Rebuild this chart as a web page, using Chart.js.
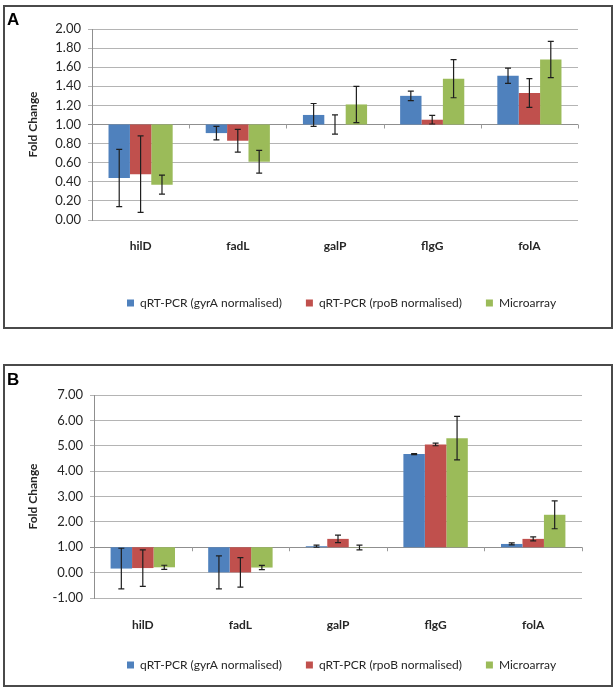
<!DOCTYPE html>
<html>
<head>
<meta charset="utf-8">
<script src="https://cdn.jsdelivr.net/npm/chart.js@4.4.1/dist/chart.umd.min.js"></script>
<style>
    body { margin: 0; background: #fff; width: 615px; height: 694px; overflow: hidden; position: relative; }
    .painel { position: absolute; left: 3px; width: 606px; border: 2px solid #4a4a4a; }
    #painelA { top: 5px; height: 320px; }
    #painelB { top: 364px; height: 319px; }
    .letra { position: absolute; left: 2px; top: 3px; font: bold 17px "Liberation Sans", Arial, sans-serif; color: #000; }
    #painelB .letra { top: 4px; }
</style>
</head>
<body>
<div class="painel" id="painelA"><span class="letra">A</span><canvas id="graficoA"></canvas></div>
<div class="painel" id="painelB"><span class="letra">B</span><canvas id="graficoB"></canvas></div>
<script>
const genes = ["hilD", "fadL", "galP", "flgG", "folA"];
const series = ["qRT-PCR (gyrA normalised)", "qRT-PCR (rpoB normalised)", "Microarray"];
const colors = ["#4f81bd", "#c0504d", "#9bbb59"];

// panel A
const gyrA_A = [0.44, 0.91, 1.10, 1.30, 1.51];
const gyrA_A_err = [0.30, 0.07, 0.12, 0.05, 0.08];
const rpoB_A = [0.48, 0.83, 1.00, 1.05, 1.33];
const rpoB_A_err = [0.40, 0.12, 0.10, 0.045, 0.15];
const micro_A = [0.37, 0.61, 1.21, 1.48, 1.68];
const micro_A_err = [0.10, 0.12, 0.19, 0.20, 0.19];

// panel B
const gyrA_B = [0.16, 0.01, 1.04, 4.67, 1.13];
const gyrA_B_err = [0.80, 0.65, 0.04, 0.02, 0.04];
const rpoB_B = [0.18, 0.01, 1.33, 5.05, 1.33];
const rpoB_B_err = [0.72, 0.58, 0.15, 0.05, 0.08];
const micro_B = [0.21, 0.20, 0.99, 5.30, 2.28];
const micro_B_err = [0.08, 0.085, 0.09, 0.86, 0.55];

const baseLine = 1;

Chart.defaults.font.family = "Lato, 'Open Sans', sans-serif";
Chart.defaults.font.size = 12;
Chart.defaults.color = "#262626";

// error bars + small category ticks on the 1.00 line
const errorBars = {
    id: "errorBars",
    afterDatasetsDraw(chart) {
        const ctx = chart.ctx;
        const y = chart.scales.y;
        const x = chart.scales.x;
        ctx.save();
        ctx.strokeStyle = "#1f1f1f";
        ctx.lineWidth = 1.2;
        chart.data.datasets.forEach((ds, i) => {
            chart.getDatasetMeta(i).data.forEach((bar, j) => {
                const v = ds.data[j][1];
                const e = ds.errors[j];
                const top = y.getPixelForValue(v + e);
                const bottom = y.getPixelForValue(v - e);
                ctx.beginPath();
                ctx.moveTo(bar.x, top);
                ctx.lineTo(bar.x, bottom);
                ctx.moveTo(bar.x - 3, top);
                ctx.lineTo(bar.x + 3, top);
                ctx.moveTo(bar.x - 3, bottom);
                ctx.lineTo(bar.x + 3, bottom);
                ctx.stroke();
            });
        });
        const y1 = y.getPixelForValue(baseLine);
        ctx.strokeStyle = "#9a9a9a";
        ctx.lineWidth = 1;
        for (let k = 1; k <= genes.length; k++) {
            const px = Math.round(x.left + k * x.width / genes.length) + 0.5;
            ctx.beginPath();
            ctx.moveTo(px, y1);
            ctx.lineTo(px, y1 + 4);
            ctx.stroke();
        }
        ctx.restore();
    }
};

// put the legend where excel had it
const legendPlace = {
    id: "legendPlace",
    afterLayout(chart, args, opts) {
        const lg = chart.legend;
        const pad = lg.options.labels.padding;
        const w = lg.right - lg.left;
        lg.left = chart.chartArea.left + opts.start - pad;
        lg.right = lg.left + w;
    }
};

function montarDatasets(valores, erros) {
    return valores.map((vals, i) => ({
        label: series[i],
        data: vals.map(v => [baseLine, v]),
        errors: erros[i],
        backgroundColor: colors[i],
        borderWidth: 0,
        barPercentage: 1,
        categoryPercentage: 0.66
    }));
}

function criarGrafico(id, valores, erros, cfg) {
    return new Chart(document.getElementById(id), {
        type: "bar",
        data: {
            labels: genes,
            datasets: montarDatasets(valores, erros)
        },
        options: {
            responsive: true,
            maintainAspectRatio: false,
            animation: false,
            layout: { padding: cfg.padding },
            plugins: {
                legend: {
                    position: "bottom",
                    align: "start",
                    labels: { boxWidth: 7, boxHeight: 7, padding: 24, font: { size: 12 } }
                },
                tooltip: { enabled: false },
                legendPlace: { start: cfg.legendStart }
            },
            scales: {
                x: {
                    grid: { display: false, drawTicks: false },
                    border: { display: false },
                    ticks: { padding: cfg.labelPad, font: { weight: "bold", size: 12 } },
                    afterFit: s => { s.height = cfg.xHeight; }
                },
                y: {
                    min: cfg.min,
                    max: cfg.max,
                    ticks: {
                        stepSize: cfg.step,
                        padding: 7,
                        font: { size: 13 },
                        callback: v => Number(v).toFixed(2)
                    },
                    grid: {
                        color: c => (c.tick && Math.abs(c.tick.value - baseLine) < 1e-6) ? "#8f8f8f" : "#b4b4b4",
                        tickLength: 4
                    },
                    border: { color: "#8f8f8f" },
                    title: {
                        display: true,
                        text: "Fold Change",
                        font: { weight: "bold", size: 12 },
                        padding: { top: 21, bottom: 0 }
                    },
                    afterFit: s => { s.width = cfg.yWidth; }
                }
            }
        },
        plugins: [errorBars, legendPlace]
    });
}

criarGrafico("graficoA",
    [gyrA_A, rpoB_A, micro_A],
    [gyrA_A_err, rpoB_A_err, micro_A_err],
    { min: 0, max: 2, step: 0.2, padding: { top: 22, right: 33, bottom: 8, left: 0 },
      yWidth: 87, xHeight: 53, labelPad: 19, legendStart: 35 });

criarGrafico("graficoB",
    [gyrA_B, rpoB_B, micro_B],
    [gyrA_B_err, rpoB_B_err, micro_B_err],
    { min: -1, max: 7, step: 1, padding: { top: 29, right: 29, bottom: 4, left: 0 },
      yWidth: 89, xHeight: 37, labelPad: 20, legendStart: 33 });
</script>
</body>
</html>
